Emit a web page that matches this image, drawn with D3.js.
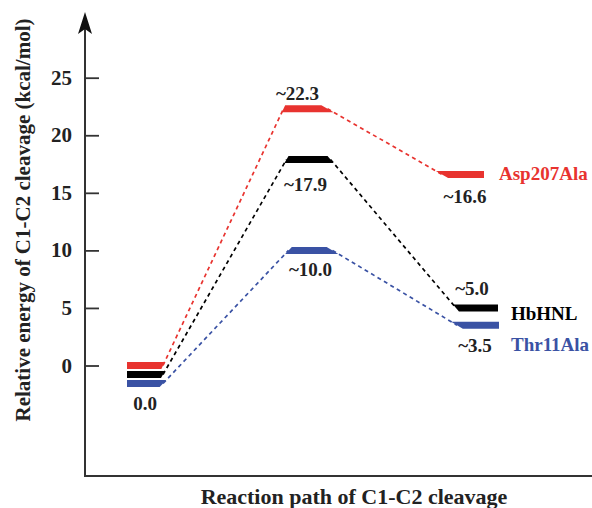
<!DOCTYPE html>
<html>
<head>
<meta charset="utf-8">
<script src="https://cdn.jsdelivr.net/npm/d3@7"></script>
<style>
  html, body { margin: 0; padding: 0; background: #fff; }
  svg { display: block; }
  text { font-family: "Liberation Serif", "Times New Roman", serif; font-weight: bold; }
</style>
</head>
<body>
<svg id="chart" width="592" height="508"></svg>
<script>
// Reaction stages along the path
const stages = ["Reactant", "TS", "Product"];

// Relative energies (kcal/mol) per enzyme variant
const seriesNames = ["Asp207Ala", "HbHNL", "Thr11Ala"];
const asp207Ala = [0.0, 22.3, 16.6];
const hbhnl = [0.0, 17.9, 5.0];
const thr11Ala = [0.0, 10.0, 3.5];
const seriesColors = ["#e8332f", "#000000", "#3a52a4"];

// Y axis ticks
const yTicks = [0, 5, 10, 15, 20, 25];

const seriesValues = [asp207Ala, hbhnl, thr11Ala];

const svg = d3.select("#chart");
const axisColor = "#333";

const y = d3.scaleLinear().domain([0, 25]).range([365.5, 77.7]);
const x = d3.scaleLinear().domain([0, stages.length - 1]).range([145, 470]);

// Per-series horizontal nudge at each stage, and half width of the level bar
const xNudge = [[0, -2, -7], [0, 1, 7], [0, 3, 8]];
const halfW = [18, 22, 21];
// Reactant levels are stacked a few pixels apart so all three stay visible
const stackPx = [0, 9, 18];
const barH = 7;

const levels = seriesValues.map((vals, si) => vals.map((v, i) => ({
  cx: x(i) + xNudge[si][i],
  cy: y(v) + (i === 0 ? stackPx[si] : 0),
  hw: halfW[i],
  v
})));

// Axes
const axisX = 85, baseY = 476;
svg.append("line").attr("x1", axisX).attr("y1", baseY).attr("x2", axisX).attr("y2", 26)
  .attr("stroke", axisColor).attr("stroke-width", 2);
svg.append("line").attr("x1", axisX - 1).attr("y1", baseY).attr("x2", 592).attr("y2", baseY)
  .attr("stroke", axisColor).attr("stroke-width", 2);
// arrow head
svg.append("path")
  .attr("d", `M${axisX},12 L${axisX + 7},34 L${axisX},29 L${axisX - 7},34 Z`)
  .attr("fill", "#111");

const yAxis = d3.axisRight(y).tickValues(yTicks).tickSize(14).tickFormat("");
const gy = svg.append("g").attr("transform", `translate(${axisX},0)`).call(yAxis);
gy.select(".domain").remove();
gy.selectAll(".tick line").attr("stroke", axisColor).attr("stroke-width", 1.8);

svg.append("g").selectAll("text").data(yTicks).join("text")
  .attr("x", 72).attr("y", d => y(d) + 7)
  .attr("text-anchor", "end").attr("font-size", 21).attr("fill", "#222")
  .text(d => d);

// Axis titles
svg.append("text")
  .attr("transform", "translate(30,220) rotate(-90)")
  .attr("text-anchor", "middle").attr("font-size", 21).attr("fill", "#222")
  .text("Relative energy of C1-C2 cleavage (kcal/mol)");
svg.append("text")
  .attr("x", 354).attr("y", 504)
  .attr("text-anchor", "middle").attr("font-size", 22).attr("fill", "#222")
  .text("Reaction path of C1-C2 cleavage");

// Connecting dashed lines and level bars
levels.forEach((lv, si) => {
  const color = seriesColors[si];
  const ends = lv.map(l => ({ x1: l.cx - l.hw, x2: l.cx + l.hw }));
  // dashed connectors
  for (let i = 0; i < lv.length - 1; i++) {
    svg.append("line")
      .attr("x1", ends[i].x2).attr("y1", lv[i].cy)
      .attr("x2", ends[i + 1].x1).attr("y2", lv[i + 1].cy)
      .attr("stroke", color).attr("stroke-width", 1.7)
      .attr("stroke-dasharray", "4,3.5");
  }
  // level bars with ends cut along the connector direction
  lv.forEach((l, i) => {
    const top = l.cy - barH / 2, bot = l.cy + barH / 2;
    let tl = ends[i].x1, bl = ends[i].x1, tr = ends[i].x2, br = ends[i].x2;
    if (i > 0) {
      const dx = ends[i].x1 - ends[i - 1].x2, dy = l.cy - lv[i - 1].cy;
      const r = Math.min(Math.abs(dx / dy), 2.2) * (barH / 2) * Math.sign(dy);
      tl = ends[i].x1 - r; bl = ends[i].x1 + r;
    }
    if (i < lv.length - 1) {
      const dx = ends[i + 1].x1 - ends[i].x2, dy = lv[i + 1].cy - l.cy;
      const r = Math.min(Math.abs(dx / dy), 2.2) * (barH / 2) * Math.sign(dy);
      tr = ends[i].x2 - r; br = ends[i].x2 + r;
    }
    svg.append("path")
      .attr("d", `M${tl},${top} L${tr},${top} L${br},${bot} L${bl},${bot} Z`)
      .attr("fill", color);
  });
});

// Energy value labels (offset above or below each level)
const fmt = v => "~" + d3.format(".1f")(v);
const labelOffsets = [[null, -9, 29], [null, 32, -13], [26, 26, 27]];
const labelDx = [[0, -8, 2], [0, -3, -5], [0, 0, -3]];
levels.forEach((lv, si) => {
  lv.forEach((l, i) => {
    const off = labelOffsets[si][i];
    if (off === null) return;
    svg.append("text")
      .attr("x", l.cx + labelDx[si][i]).attr("y", l.cy + off)
      .attr("text-anchor", "middle").attr("font-size", 19).attr("fill", "#222")
      .text(i === 0 ? d3.format(".1f")(l.v) : fmt(l.v));
  });
});

// Series names beside the product levels
const nameDy = [6, 12, 26];
const nameX = [499, 511, 511];
levels.forEach((lv, si) => {
  const last = lv[lv.length - 1];
  svg.append("text")
    .attr("x", nameX[si]).attr("y", last.cy + nameDy[si])
    .attr("font-size", 19).attr("fill", seriesColors[si])
    .text(seriesNames[si]);
});
</script>
</body>
</html>
